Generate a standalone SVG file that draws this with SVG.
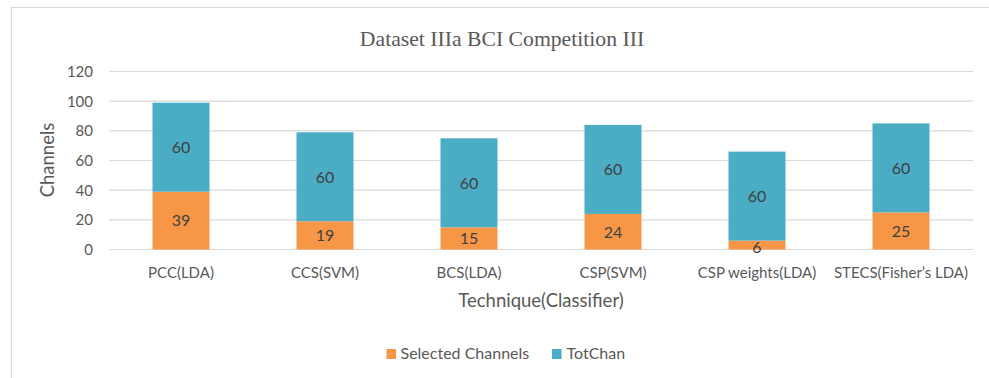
<svg xmlns="http://www.w3.org/2000/svg" width="989" height="378" viewBox="0 0 989 378">
<style>
.grid{stroke:#D9D9D9;stroke-width:1.2;fill:none}
.tick{font-family:Lato,"Liberation Sans",sans-serif;font-size:15px;fill:#595959;text-anchor:end}
.cat{font-family:Lato,"Liberation Sans",sans-serif;font-size:15px;fill:#595959;text-anchor:middle}
.atitle{font-family:Lato,"Liberation Sans",sans-serif;font-size:18.5px;fill:#595959;text-anchor:middle}
.dl{font-family:Lato,"Liberation Sans",sans-serif;font-size:16px;fill:#404040;text-anchor:middle}
.leg{font-family:Lato,"Liberation Sans",sans-serif;font-size:16px;fill:#595959}
.sel{fill:#F79646}
.tot{fill:#4BACC6}
</style>
<rect x="0" y="0" width="989" height="378" fill="#FFFFFF"/>
<rect x="11.5" y="7.5" width="1000" height="400" fill="none" stroke="#D9D9D9" stroke-width="1.2"/>
<text x="502" y="46" font-family="'Liberation Serif',serif" font-size="21.7" fill="#595959" text-anchor="middle">Dataset IIIa BCI Competition III</text>
<g id="gridlines">
<line class="grid" x1="109" y1="71.5" x2="973" y2="71.5"/>
<line class="grid" x1="109" y1="101.2" x2="973" y2="101.2"/>
<line class="grid" x1="109" y1="130.8" x2="973" y2="130.8"/>
<line class="grid" x1="109" y1="160.5" x2="973" y2="160.5"/>
<line class="grid" x1="109" y1="190.2" x2="973" y2="190.2"/>
<line class="grid" x1="109" y1="219.8" x2="973" y2="219.8"/>
<line class="grid" x1="109" y1="249.5" x2="973" y2="249.5"/>
</g>
<g id="yaxis">
<text class="tick" x="93" y="77">120</text>
<text class="tick" x="93" y="106.5">100</text>
<text class="tick" x="93" y="136">80</text>
<text class="tick" x="93" y="166">60</text>
<text class="tick" x="93" y="195.5">40</text>
<text class="tick" x="93" y="225">20</text>
<text class="tick" x="93" y="255">0</text>
<text class="atitle" transform="translate(54,160) rotate(-90)">Channels</text>
</g>
<g id="bar-pcc">
<rect class="sel" x="152.5" y="191.7" width="57" height="57.8"/>
<rect class="tot" x="152.5" y="102.7" width="57" height="89"/>
<text class="dl" x="181" y="226">39</text>
<text class="dl" x="181" y="153">60</text>
<text class="cat" x="181" y="278">PCC(LDA)</text>
</g>
<g id="bar-ccs">
<rect class="sel" x="296.5" y="221.3" width="57" height="28.2"/>
<rect class="tot" x="296.5" y="132.3" width="57" height="89"/>
<text class="dl" x="325" y="241">19</text>
<text class="dl" x="325" y="182.5">60</text>
<text class="cat" x="325" y="278">CCS(SVM)</text>
</g>
<g id="bar-bcs">
<rect class="sel" x="440.5" y="227.3" width="57" height="22.2"/>
<rect class="tot" x="440.5" y="138.3" width="57" height="89"/>
<text class="dl" x="469" y="244">15</text>
<text class="dl" x="469" y="188.5">60</text>
<text class="cat" x="469" y="278">BCS(LDA)</text>
</g>
<g id="bar-csp">
<rect class="sel" x="584.5" y="213.9" width="57" height="35.6"/>
<rect class="tot" x="584.5" y="124.9" width="57" height="89"/>
<text class="dl" x="613" y="237.5">24</text>
<text class="dl" x="613" y="175">60</text>
<text class="cat" x="613" y="278">CSP(SVM)</text>
</g>
<g id="bar-cspw">
<rect class="sel" x="728.5" y="240.6" width="57" height="8.9"/>
<rect class="tot" x="728.5" y="151.6" width="57" height="89"/>
<text class="dl" x="757" y="252.5">6</text>
<text class="dl" x="757" y="201.5">60</text>
<text class="cat" x="757" y="278">CSP weights(LDA)</text>
</g>
<g id="bar-stecs">
<rect class="sel" x="872.5" y="212.4" width="57" height="37.1"/>
<rect class="tot" x="872.5" y="123.4" width="57" height="89"/>
<text class="dl" x="901" y="236.5">25</text>
<text class="dl" x="901" y="174">60</text>
<text class="cat" x="901" y="278">STECS(Fisher’s LDA)</text>
</g>
<text class="atitle" x="541" y="307">Technique(Classifier)</text>
<g id="legend">
<rect class="sel" x="386.5" y="349" width="9.5" height="10"/>
<text class="leg" x="400.5" y="359">Selected Channels</text>
<rect class="tot" x="552" y="349" width="9.5" height="10"/>
<text class="leg" x="566.5" y="359">TotChan</text>
</g>
</svg>
